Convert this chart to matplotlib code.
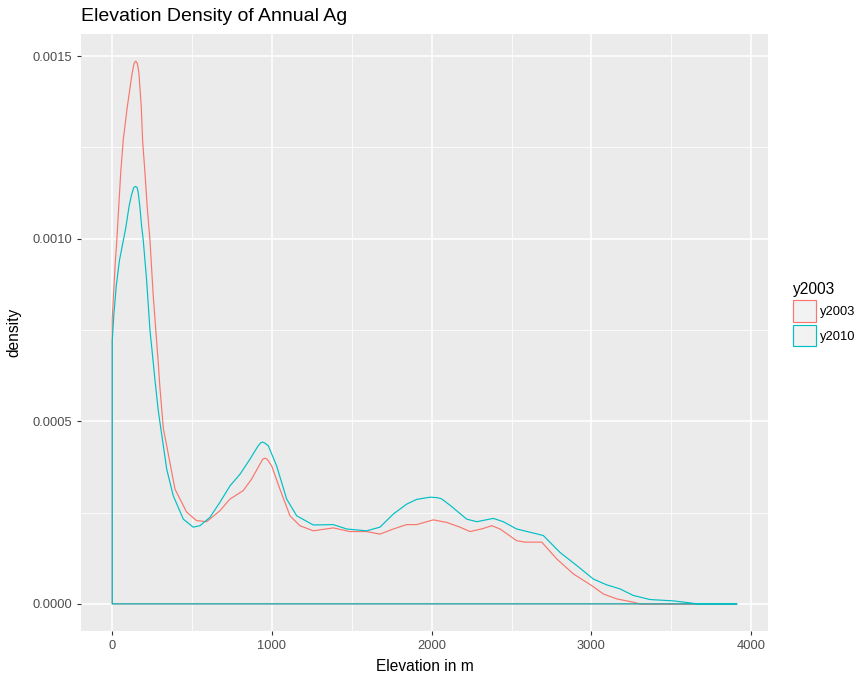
import numpy as np
import matplotlib
matplotlib.use("Agg")
import matplotlib.pyplot as plt
from matplotlib.patches import Patch
from matplotlib.ticker import MultipleLocator, FuncFormatter

plt.rcParams['font.family'] = ['Liberation Sans', 'DejaVu Sans']

# density curves (elevation in m, density)
elev_2003 = [0, 11, 19, 29, 53, 69, 94, 125, 137, 147, 157, 167, 182, 190, 205, 219,
             236, 257, 288, 299, 320, 341, 393, 466, 528, 591, 674, 737, 820, 873,
             925, 942, 956, 970, 998, 1050, 1113, 1175, 1259, 1384, 1488, 1593, 1676,
             1760, 1843, 1906, 2010, 2094, 2177, 2240, 2320, 2376, 2428, 2532, 2584,
             2689, 2783, 2887, 3002, 3075, 3158, 3262, 3304, 3910]
dens_2003 = [0.00078, 0.000869, 0.000934, 0.000997, 0.00118, 0.00127, 0.00136,
             0.001454, 0.00148, 0.001486, 0.00148, 0.001454, 0.00136, 0.00127,
             0.00118, 0.001087, 0.000997, 0.000842, 0.000661, 0.00059, 0.00048,
             0.000433, 0.000314, 0.000251, 0.000228, 0.000225, 0.000255, 0.000287,
             0.00031, 0.000342, 0.000383, 0.000396, 0.000399, 0.000396, 0.000378,
             0.000314, 0.000241, 0.000214, 0.0002, 0.000208, 0.000198, 0.000198,
             0.000191, 0.000205, 0.000217, 0.000217, 0.00023, 0.000223, 0.00021,
             0.000198, 0.000206, 0.000214, 0.000205, 0.000173, 0.000169, 0.000169,
             0.000123, 0.000082, 0.00005, 0.000027, 0.0000137, 0.0000046, 0.0, 0.0]

elev_2010 = [0, 10, 25, 45, 65, 85, 106, 121, 135, 146, 156, 163, 173, 184, 194, 215,
             236, 257, 267, 288, 305, 341, 382, 445, 507, 549, 612, 674, 737, 800,
             862, 914, 930, 941, 952, 977, 1029, 1092, 1155, 1259, 1384, 1468, 1593,
             1676, 1760, 1843, 1906, 1960, 1990, 2031, 2060, 2115, 2219, 2282, 2386,
             2448, 2532, 2636, 2699, 2803, 2908, 3012, 3096, 3179, 3262, 3367, 3513,
             3617, 3660, 3910]
dens_2010 = [0.00072, 0.00079, 0.00087, 0.00094, 0.000985, 0.00103, 0.00109,
             0.00112, 0.00114, 0.001143, 0.00114, 0.001125, 0.001088, 0.001034,
             0.000997, 0.000888, 0.000751, 0.00066, 0.000615, 0.00053, 0.000478,
             0.000369, 0.000296, 0.000232, 0.00021, 0.000214, 0.000237, 0.000278,
             0.000323, 0.000355, 0.000396, 0.000433, 0.000441, 0.000443, 0.000441,
             0.000433, 0.000378, 0.000287, 0.000241, 0.000216, 0.000217, 0.000205,
             0.0002, 0.00021, 0.000246, 0.000273, 0.000286, 0.00029, 0.000292,
             0.000291, 0.000288, 0.00027, 0.000232, 0.000225, 0.000234, 0.000225,
             0.000205, 0.000194, 0.000187, 0.000141, 0.000105, 0.000068, 0.000052,
             0.000041, 0.000023, 0.0000118, 0.0000082, 0.0000027, 0.0, 0.0]

series = ["y2003", "y2010"]
colors = ["#F8766D", "#00BFC4"]

fig = plt.figure(figsize=(8.61, 6.78), dpi=100)
ax = fig.add_axes([81 / 861, 1 - 631 / 678, 687 / 861, 597 / 678])
ax.set_facecolor("#EBEBEB")
for s in ax.spines.values():
	s.set_visible(False)

for xs, ys, c in [(elev_2003, dens_2003, colors[0]), (elev_2010, dens_2010, colors[1])]:
	ax.fill_between(xs, ys, 0, facecolor="none", edgecolor=c, linewidth=0.85, zorder=3)

# ggplot style 5% expansion
xmin = min(elev_2003 + elev_2010)
xmax = max(elev_2003 + elev_2010)
ymax = max(dens_2003 + dens_2010)
ax.set_xlim(xmin - 0.05 * (xmax - xmin), xmax + 0.05 * (xmax - xmin))
ax.set_ylim(-0.05 * ymax, 1.05 * ymax)

ax.xaxis.set_major_locator(MultipleLocator(1000))
ax.xaxis.set_minor_locator(MultipleLocator(500))
ax.yaxis.set_major_locator(MultipleLocator(0.0005))
ax.yaxis.set_minor_locator(MultipleLocator(0.00025))
ax.yaxis.set_major_formatter(FuncFormatter(lambda v, p: "%.4f" % v))
ax.grid(which="major", color="white", linewidth=1.1, zorder=0)
ax.grid(which="minor", color="white", linewidth=0.55, zorder=0)
ax.set_axisbelow(True)
ax.tick_params(which="major", length=3, width=0.8, color="#333333", labelcolor="#4D4D4D",
			   labelsize=9.3, pad=3.6)
ax.tick_params(axis="x", pad=3.5)
ax.tick_params(which="minor", length=0)

ax.set_xlabel("Elevation in m", fontsize=11.2, color="black")
ax.set_ylabel("density", fontsize=11.2, color="black")
ax.xaxis.set_label_coords(0.5, (631 - 659) / 597)
ax.yaxis.set_label_coords((21 - 81) / 687, 0.5)
ax.set_title("Elevation Density of Annual Ag", loc="left", fontsize=14, pad=9.5)

handles = [Patch(facecolor="#F2F2F2", edgecolor=c, linewidth=0.85, label=s) for s, c in zip(series, colors)]
leg = fig.legend(handles=handles, title="y2003", loc="center left",
				 bbox_to_anchor=(793 / 861, 1 - 314 / 678), frameon=False,
				 fontsize=9.3, title_fontsize=11.2, handlelength=1.75, handleheight=2.2,
				 handletextpad=0.3, labelspacing=0.25, borderpad=0, borderaxespad=0,
				 alignment="left")

fig.savefig("out.png", dpi=100)
